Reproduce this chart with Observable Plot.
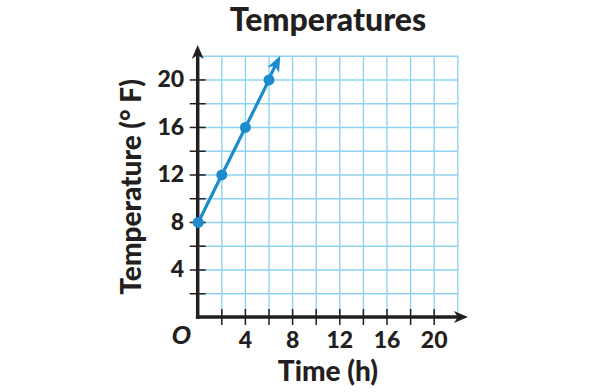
<!DOCTYPE html>
<html><head><meta charset="utf-8">
<script src="https://cdn.jsdelivr.net/npm/d3@7"></script>
<script src="https://cdn.jsdelivr.net/npm/@observablehq/plot@0.6"></script>
<style>body{margin:0;background:#fff} svg{display:block}</style>
</head><body><div id="chart"></div>
<script>
// ---- data ----
const title = "Temperatures";
const xLabel = "Time (h)";
const yLabel = "Temperature (° F)";
const originLabel = "O";
const hours = [0, 2, 4, 6];
const temps = [8, 12, 16, 20];
const arrowEndHour = 7;
const arrowEndTemp = 22;
const domainMax = 22;
const axisEnd = 22.9;
const gridValues = [2, 4, 6, 8, 10, 12, 14, 16, 18, 20, 22];
const tickValues = [2, 4, 6, 8, 10, 12, 14, 16, 18, 20];
const labelValues = [4, 8, 12, 16, 20];

const points = hours.map((h, i) => ({hour: h, temp: temps[i]}));
const ink = "#231f20";
const blue = "#1b8ccc";
const gridColor = "#8fd4f3";

function arrowPath(L, W) {
  return `M0,0L${-L},${-W / 2}L${-0.72 * L},0L${-L},${W / 2}Z`;
}

function arrowsMark(index, {x, y}) {
  const g = d3.create("svg:g");
  const x0 = x(0), y0 = y(0);
  const xe = x(axisEnd), ye = y(axisEnd);
  const La = 14, Wa = 12;
  g.append("line").attr("x1", x0).attr("y1", y0).attr("x2", xe - 0.7 * La).attr("y2", y0)
    .attr("stroke", ink).attr("stroke-width", 3.5).attr("stroke-linecap", "square");
  g.append("line").attr("x1", x0).attr("y1", y0).attr("x2", x0).attr("y2", ye + 0.7 * La)
    .attr("stroke", ink).attr("stroke-width", 3.5).attr("stroke-linecap", "square");
  g.append("path").attr("d", arrowPath(La, Wa)).attr("fill", ink)
    .attr("transform", `translate(${xe},${y0})`);
  g.append("path").attr("d", arrowPath(La, Wa)).attr("fill", ink)
    .attr("transform", `translate(${x0},${ye}) rotate(-90)`);
  const last = points[points.length - 1];
  const sx = x(last.hour), sy = y(last.temp);
  const tx = x(arrowEndHour), ty = y(arrowEndTemp);
  const ang = Math.atan2(ty - sy, tx - sx);
  const Ld = 16, Wd = 13;
  const bx = tx - Math.cos(ang) * 0.7 * Ld, by = ty - Math.sin(ang) * 0.7 * Ld;
  g.append("line").attr("x1", sx).attr("y1", sy).attr("x2", bx).attr("y2", by)
    .attr("stroke", blue).attr("stroke-width", 3.2);
  g.append("path").attr("d", arrowPath(Ld, Wd)).attr("fill", blue)
    .attr("transform", `translate(${tx},${ty}) rotate(${ang * 180 / Math.PI})`);
  return g.node();
}

const chart = Plot.plot({
  width: 607,
  height: 392,
  marginLeft: 197.7,
  marginRight: 149.7,
  marginTop: 55.7,
  marginBottom: 75,
  x: {domain: [0, domainMax], axis: null},
  y: {domain: [0, domainMax], axis: null},
  style: {fontFamily: "Lato, 'Open Sans', sans-serif", color: ink, background: "#fff", overflow: "visible"},
  marks: [
    Plot.ruleX(gridValues, {x: d => d, stroke: gridColor, strokeWidth: 1.4}),
    Plot.ruleY(gridValues, {y: d => d, stroke: gridColor, strokeWidth: 1.4}),
    Plot.ruleX(tickValues, {x: d => d, y1: 0, y2: 0, insetTop: -8, insetBottom: -8, stroke: ink, strokeWidth: 1.5}),
    Plot.ruleY(tickValues, {y: d => d, x1: 0, x2: 0, insetLeft: -8, insetRight: -8, stroke: ink, strokeWidth: 1.5}),
    arrowsMark,
    Plot.line(points, {x: "hour", y: "temp", stroke: blue, strokeWidth: 3.2}),
    Plot.dot(points, {x: "hour", y: "temp", r: 5.5, fill: blue}),
    Plot.text(labelValues, {x: d => d, y: 0, dy: 23, text: d => String(d), fontSize: 23, fontWeight: 900, fill: ink}),
    Plot.text(labelValues, {x: 0, y: d => d, dx: -14, textAnchor: "end", text: d => String(d), fontSize: 23, fontWeight: 900, fill: ink}),
    Plot.text([originLabel], {x: 0, y: 0, dx: -17, dy: 18, text: d => d, fontSize: 25, fontWeight: "bold", fontStyle: "italic", fontFamily: "'Liberation Sans', sans-serif", fill: ink}),
    Plot.text([title], {frameAnchor: "top", lineAnchor: "middle", dy: -35, text: d => d, fontSize: 32, fontWeight: 900, fill: ink}),
    Plot.text([xLabel], {frameAnchor: "bottom", lineAnchor: "middle", dy: 55, text: d => d, fontSize: 28, fontWeight: 900, fill: ink}),
    Plot.text([yLabel], {frameAnchor: "left", textAnchor: "middle", lineAnchor: "middle", dx: -66, rotate: -90, text: d => d, fontSize: 28, fontWeight: 900, fill: ink})
  ]
});
document.getElementById("chart").appendChild(chart);
</script>
</body></html>
